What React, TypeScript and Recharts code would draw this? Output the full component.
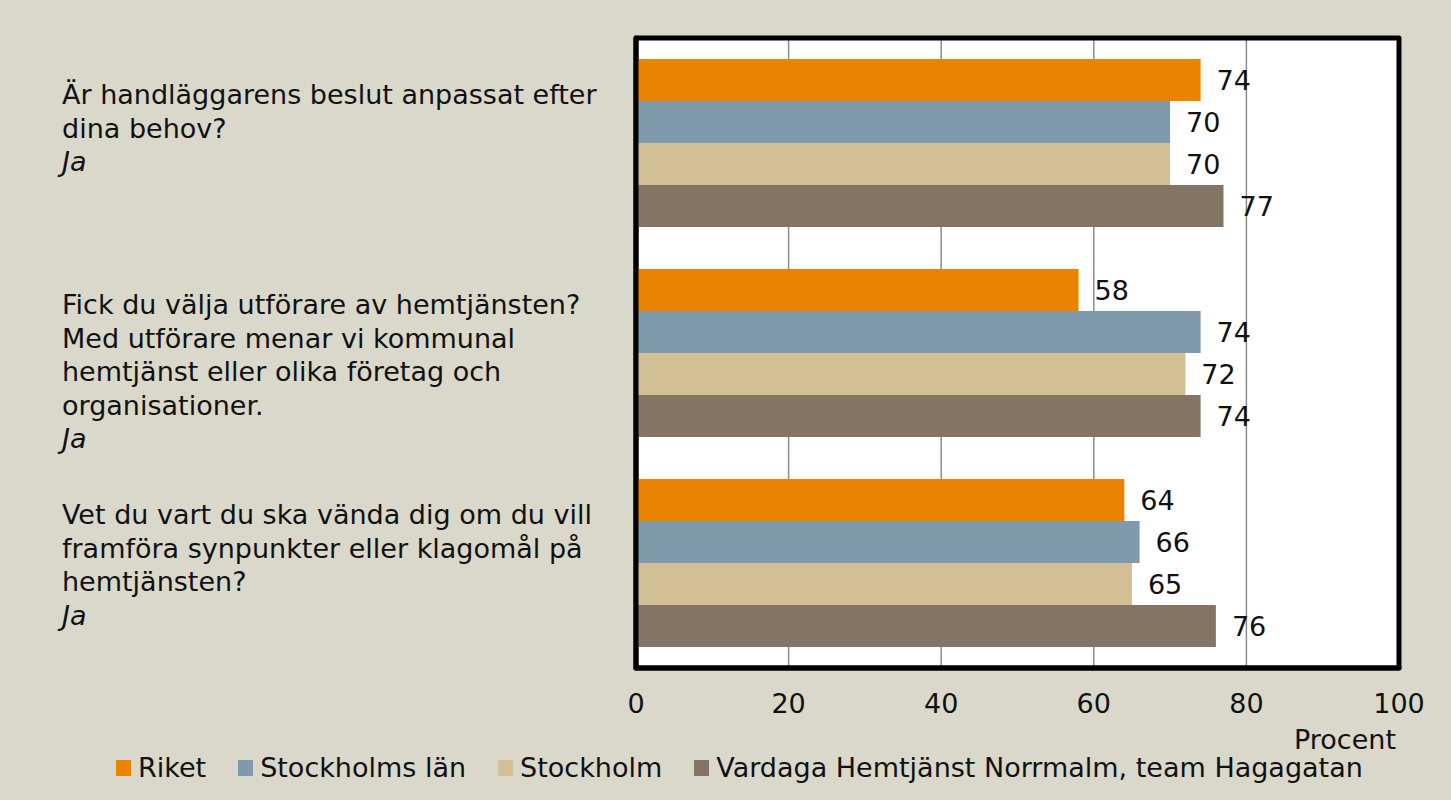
import { BarChart, Bar, XAxis, YAxis, CartesianGrid, LabelList, Label, ReferenceArea } from "recharts"

const questions = [
  "Är handläggarens beslut anpassat efter dina behov?",
  "Fick du välja utförare av hemtjänsten? Med utförare menar vi kommunal hemtjänst eller olika företag och organisationer.",
  "Vet du vart du ska vända dig om du vill framföra synpunkter eller klagomål på hemtjänsten?",
]

const questionLines = [
  ["Är handläggarens beslut anpassat efter", "dina behov?"],
  [
    "Fick du välja utförare av hemtjänsten?",
    "Med utförare menar vi kommunal",
    "hemtjänst eller olika företag och",
    "organisationer.",
  ],
  ["Vet du vart du ska vända dig om du vill", "framföra synpunkter eller klagomål på", "hemtjänsten?"],
]

const answer = "Ja"

const riket = [74, 58, 64]
const stockholmsLan = [70, 74, 66]
const stockholm = [70, 72, 65]
const vardaga = [77, 74, 76]

const xTicks = [0, 20, 40, 60, 80, 100]

const series = [
  { key: "riket", name: "Riket", color: "#E98300", values: riket },
  { key: "lan", name: "Stockholms län", color: "#7F9AAB", values: stockholmsLan },
  { key: "sthlm", name: "Stockholm", color: "#D3BF96", values: stockholm },
  { key: "vardaga", name: "Vardaga Hemtjänst Norrmalm, team Hagagatan", color: "#857464", values: vardaga },
]

const data = questions.map((q, i) => {
  const row: Record<string, string | number> = { name: q }
  series.forEach((s) => {
    row[s.key] = s.values[i]
  })
  return row
})

const FONT = "'DejaVu Sans', sans-serif"
const TEXT = "#111"
const BG = "#DAD8CB"
const border = { stroke: "#000", strokeWidth: 5, strokeLinecap: "round" as const }

const QuestionTick = (props: { y?: number; payload?: { value: string } }) => {
  const { y = 0, payload } = props
  const i = questions.indexOf(payload?.value ?? "")
  const lines = questionLines[i] ?? []
  return (
    <text x={62} y={y - 39} fontSize={27} fontFamily={FONT} fill={TEXT}>
      {lines.map((l, j) => (
        <tspan key={j} x={62} dy={j === 0 ? 0 : 33.5}>
          {l}
        </tspan>
      ))}
      <tspan x={62} dy={33.5} fontStyle="italic">
        {answer}
      </tspan>
    </text>
  )
}

const ProcentLabel = (props: { viewBox?: { x: number; y: number; width: number; height: number } }) => {
  const vb = props.viewBox
  if (!vb) return null
  return (
    <text x={vb.x + vb.width - 3} y={vb.y + 81} textAnchor="end" fontSize={27} fontFamily={FONT} fill={TEXT}>
      Procent
    </text>
  )
}

export default function App() {
  return (
    <div style={{ position: "absolute", left: 0, top: 0, width: 1451, height: 800, background: BG, fontFamily: FONT }}>
      <BarChart
        width={1451}
        height={800}
        data={data}
        layout="vertical"
        margin={{ top: 38, right: 52, bottom: 0, left: 0 }}
        barCategoryGap="10%"
        barGap={0}
      >
        <CartesianGrid horizontal={false} stroke="#8c8c8c" strokeWidth={1.5} fill="#fff" fillOpacity={1} />
        <ReferenceArea
          x1={0}
          x2={100}
          fill="none"
          fillOpacity={0}
          stroke="#000"
          strokeWidth={5}
          strokeLinejoin="round"
          ifOverflow="visible"
        />
        <XAxis
          type="number"
          domain={[0, 100]}
          ticks={xTicks}
          height={132}
          tickLine={false}
          tickSize={6}
          tickMargin={20}
          axisLine={border}
          tick={{ fontSize: 27, fill: TEXT, fontFamily: FONT }}
        >
          <Label content={<ProcentLabel />} />
        </XAxis>
        <YAxis type="category" dataKey="name" width={636} tickLine={false} axisLine={border} tick={<QuestionTick />} />
        {series.map((s) => (
          <Bar key={s.key} dataKey={s.key} name={s.name} fill={s.color} isAnimationActive={false}>
            <LabelList dataKey={s.key} position="right" offset={16} fontSize={27} fontFamily={FONT} fill={TEXT} />
          </Bar>
        ))}
      </BarChart>
      <div
        style={{
          position: "absolute",
          left: 116,
          top: 749,
          display: "flex",
          alignItems: "center",
          gap: 32,
          fontSize: 27,
          color: TEXT,
          whiteSpace: "nowrap",
          lineHeight: "38px",
        }}
      >
        {series.map((s) => (
          <div key={s.key} style={{ display: "flex", alignItems: "center", gap: 7 }}>
            <span style={{ display: "inline-block", width: 15, height: 16, background: s.color }} />
            <span>{s.name}</span>
          </div>
        ))}
      </div>
    </div>
  )
}
